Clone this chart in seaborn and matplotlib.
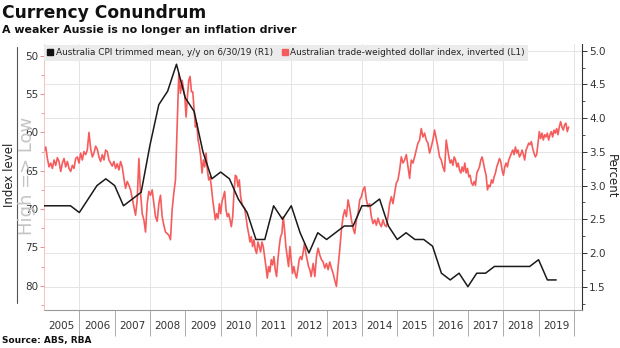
import numpy as np
import pandas as pd
import matplotlib
matplotlib.use("Agg")
import matplotlib.pyplot as plt
import seaborn as sns
from matplotlib.lines import Line2D
from matplotlib.ticker import MultipleLocator, FixedLocator, FuncFormatter, NullFormatter, FormatStrFormatter

# ---------------- data ----------------
# Australia CPI trimmed mean, y/y (quarterly, first value Q4 2004, last Q2 2019)
cpi_first_year = 2005.0
cpi_step = 0.25
cpi_values = [2.7, 2.7, 2.7, 2.7, 2.6, 2.8, 3.0, 3.1, 3.0, 2.7, 2.8, 2.9, 3.6, 4.2, 4.4,
              4.8, 4.3, 4.1, 3.5, 3.1, 3.2, 3.1, 2.8, 2.6, 2.2, 2.2, 2.7, 2.5, 2.7, 2.3,
              2.0, 2.3, 2.2, 2.3, 2.4, 2.4, 2.7, 2.7, 2.8, 2.4, 2.2, 2.3, 2.2, 2.2, 2.1,
              1.7, 1.6, 1.7, 1.5, 1.7, 1.7, 1.8, 1.8, 1.8, 1.8, 1.8, 1.9, 1.6, 1.6]

# Australian trade-weighted dollar index, inverted (in four spans)
twi_span1 = (2005.002, 2008.910)
twi_vals1 = [62.5, 61.9, 63.4, 64.5, 64.0, 64.7, 63.6, 64.3, 63.3, 63.8, 65.1, 64.0, 63.4, 64.5,
             63.8, 64.7, 65.1, 64.3, 64.7, 63.4, 63.2, 64.0, 62.7, 63.6, 62.5, 62.9, 62.3, 60.0,
             62.1, 63.2, 62.7, 61.8, 62.2, 63.2, 63.8, 62.9, 63.6, 62.3, 62.5, 63.6, 64.0, 64.4,
             63.8, 64.7, 64.1, 64.9, 63.8, 64.5, 66.0, 67.3, 66.4, 66.9, 67.5, 68.6, 69.7, 70.8,
             68.8, 63.4, 67.9, 70.6, 71.4, 73.0, 69.3, 67.7, 68.2, 67.5, 69.3, 71.0, 71.6, 69.3,
             68.2, 71.0, 72.1, 73.0, 73.2, 73.4, 74.0, 70.1, 67.9, 66.2, 59.3, 52.3, 54.9, 53.2]
twi_span2 = (2008.985, 2012.563)
twi_vals2 = [55.3, 58.0, 55.3, 53.2, 52.7, 54.7, 54.7, 57.1, 59.3, 58.8, 61.0, 61.9, 63.2, 65.3,
             63.6, 64.5, 62.7, 64.9, 66.2, 65.8, 67.1, 68.8, 70.1, 71.4, 70.6, 71.2, 69.3, 70.6,
             69.0, 68.4, 67.7, 70.1, 71.0, 70.6, 71.4, 72.3, 71.0, 67.9, 65.6, 65.8, 67.1, 66.2,
             68.4, 69.3, 69.7, 69.9, 71.0, 72.3, 73.2, 74.3, 73.6, 74.9, 74.0, 75.3, 75.8, 74.3,
             74.9, 75.6, 74.3, 74.9, 76.2, 77.5, 79.0, 77.5, 78.2, 76.6, 77.3, 76.2, 77.9, 78.8,
             76.6, 74.9, 73.6, 73.2, 71.0, 72.7, 74.9, 76.2, 77.5, 74.9, 76.6, 78.4, 77.5, 78.4,
             79.0, 77.9, 76.6, 76.2, 76.6, 75.6, 74.5, 75.8, 76.6, 77.5, 77.9, 78.8]
twi_span3 = (2012.619, 2016.339)
twi_vals3 = [77.1, 78.8, 76.2, 75.1, 76.0, 76.6, 76.9, 77.7, 77.1, 77.9, 76.9, 77.7, 78.4, 79.3,
             80.1, 77.5, 75.3, 72.7, 71.0, 70.1, 71.0, 68.8, 69.9, 71.4, 72.5, 73.2, 71.4, 70.6,
             68.8, 68.4, 67.5, 67.1, 68.8, 69.7, 69.3, 71.0, 71.9, 71.4, 72.1, 71.2, 71.9, 72.3,
             71.4, 72.1, 72.3, 71.0, 69.3, 68.4, 69.3, 67.9, 66.6, 66.2, 64.9, 63.2, 64.0, 63.6,
             62.9, 64.5, 66.0, 63.6, 64.0, 63.2, 62.3, 61.4, 61.0, 59.5, 60.6, 60.1, 61.0, 61.4,
             62.7, 61.9, 61.0, 59.7, 60.8, 61.9, 63.2, 63.6, 64.5, 65.1]
twi_span4 = (2016.386, 2019.851)
twi_vals4 = [61.0, 62.1, 63.2, 64.0, 63.6, 64.3, 63.2, 63.6, 64.5, 64.0, 64.9, 65.3, 64.5, 65.1,
             64.0, 65.3, 64.7, 65.8, 65.6, 66.6, 66.9, 66.4, 66.9, 65.3, 64.9, 64.5, 63.6, 63.2,
             64.0, 64.9, 65.6, 67.5, 66.9, 67.1, 66.2, 66.6, 65.8, 65.3, 64.5, 64.0, 63.4, 63.8,
             64.9, 65.6, 64.5, 64.0, 64.5, 63.6, 63.2, 62.7, 62.3, 62.9, 61.9, 62.7, 62.3, 63.2,
             62.9, 62.3, 62.9, 63.6, 62.3, 61.9, 61.4, 61.6, 61.2, 62.1, 62.7, 63.2, 62.9, 61.4,
             59.9, 60.8, 60.1, 61.0, 60.3, 60.6, 60.1, 61.0, 60.3, 59.9, 60.6, 59.7, 60.1, 59.5,
             60.3, 59.3, 58.6, 59.3, 59.7, 59.0, 58.8, 59.9, 59.3]

year_labels = [str(y) for y in range(2005, 2020)]
cpi_label = "Australia CPI trimmed mean, y/y on 6/30/19 (R1)"
twi_label = "Australian trade-weighted dollar index, inverted (L1)"

# ---------------- frames ----------------
cpi_df = pd.DataFrame({
    "year": cpi_first_year + cpi_step * np.arange(len(cpi_values)),
    "pct": cpi_values,
})
twi_parts = []
for span, vals in [(twi_span1, twi_vals1), (twi_span2, twi_vals2),
                   (twi_span3, twi_vals3), (twi_span4, twi_vals4)]:
    twi_parts.append(pd.DataFrame({"year": np.linspace(span[0], span[1], len(vals)),
                                   "idx": vals}))
twi_df = pd.concat(twi_parts, ignore_index=True)

# ---------------- style ----------------
sns.set_style("white")
plt.rcParams["font.family"] = ["DejaVu Sans"]

RED = "#f65c5c"
GRID = "#e4e4e4"

W, H = 620, 348
fig = plt.figure(figsize=(6.2, 3.48), dpi=100)
L, R, T, B = 44, 582, 44, 310
ax0 = fig.add_axes([L / W, 1 - B / H, (R - L) / W, (B - T) / H])
ax1 = ax0.twinx()
ax2 = ax0.twinx()

sns.lineplot(data=twi_df, x="year", y="idx", ax=ax1, color=RED, linewidth=1.2,
             estimator=None, sort=False)
sns.lineplot(data=cpi_df, x="year", y="pct", ax=ax2, color="#1a1a1a", linewidth=1.1,
             estimator=None, sort=False)

xmin, xmax = 2005.0, 2020.23
ax0.set_xlim(xmin, xmax)
ax0.set_ylim(1.154, 5.10)
ax2.set_ylim(1.154, 5.10)
ax1.set_ylim(83.17, 48.47)

for a in (ax0, ax1, ax2):
    a.set_xlabel("")
    a.set_ylabel("")
    for s in a.spines.values():
        s.set_visible(False)

# right axis (percent) on ax0
ax0.yaxis.tick_right()
ax0.yaxis.set_major_locator(MultipleLocator(0.5))
ax0.yaxis.set_minor_locator(MultipleLocator(0.25))
ax0.yaxis.set_major_formatter(FormatStrFormatter("%.1f"))
ax0.tick_params(axis="y", which="major", length=3.5, width=0.7, color="#333333",
                labelsize=7.5, labelcolor="#333333", pad=1.5, right=True, left=False,
                labelright=True, labelleft=False)
ax0.tick_params(axis="y", which="minor", length=2, width=0.6, color="#333333",
                right=True, left=False)
ax0.spines["right"].set_visible(True)
ax0.spines["right"].set_color("#333333")
ax0.spines["right"].set_linewidth(0.8)
ax0.spines["bottom"].set_visible(True)
ax0.spines["bottom"].set_color("#999999")
ax0.spines["bottom"].set_linewidth(0.8)

# x axis: gridlines on even years, labels mid-year
ax0.xaxis.set_major_locator(FixedLocator(list(range(2006, 2021, 2))))
ax0.xaxis.set_major_formatter(NullFormatter())
ax0.xaxis.set_minor_locator(FixedLocator([y + 0.5 for y in range(2005, 2020)]))
ax0.xaxis.set_minor_formatter(FuncFormatter(lambda v, p: year_labels[int(v) - 2005]))
ax0.tick_params(axis="x", which="major", length=0, bottom=True)
ax0.tick_params(axis="x", which="minor", length=0, pad=8, labelsize=7.5,
                labelcolor="#333333", bottom=True)
ax0.grid(True, axis="y", which="major", color=GRID, linewidth=0.7)
ax0.grid(True, axis="x", which="major", color=GRID, linewidth=0.7)

sec = ax0.secondary_xaxis("bottom")
sec.xaxis.set_major_locator(FixedLocator(list(range(2006, 2021))))
sec.xaxis.set_major_formatter(NullFormatter())
sec.xaxis.set_minor_locator(FixedLocator([]))
sec.tick_params(axis="x", which="major", length=19, width=0.7, color="#aaaaaa")
for s in sec.spines.values():
    s.set_visible(False)

# left axis (index) on ax1
ax1.yaxis.tick_left()
ax1.yaxis.set_major_locator(MultipleLocator(5))
ax1.yaxis.set_minor_locator(MultipleLocator(2.5))
ax1.tick_params(axis="y", which="major", length=3, width=0.7, color="#f08a8a",
                labelsize=7.5, labelcolor="#333333", pad=1, left=True, right=False,
                labelleft=True, labelright=False)
ax1.tick_params(axis="y", which="minor", length=2, width=0.6, color="#f08a8a",
                left=True, right=False)
ax1.spines["left"].set_visible(True)
ax1.spines["left"].set_color("#f7b5b5")
ax1.spines["left"].set_linewidth(0.6)

ax2.yaxis.set_visible(False)

# legend
handles = [Line2D([], [], marker="s", linestyle="none", color="#111111", markersize=4.5),
           Line2D([], [], marker="s", linestyle="none", color=RED, markersize=4.5)]
leg = ax2.legend(handles, [cpi_label, twi_label], loc="upper left",
                 bbox_to_anchor=(0.0, 0.995), ncol=2, fontsize=6.4, frameon=True,
                 fancybox=False, facecolor="#ebebeb", edgecolor="#ebebeb",
                 framealpha=1.0, borderpad=0.35, handlelength=0.7, handletextpad=0.25,
                 columnspacing=1.0, borderaxespad=0.0)
leg.get_frame().set_linewidth(0)
for t in leg.get_texts():
    t.set_color("#222222")

# texts
fig.text(0.004, 1 - 13 / H, "Currency Conundrum", fontsize=12.3, fontweight="bold",
         va="center", ha="left", color="#111111")
fig.text(0.004, 1 - 30 / H, "A weaker Aussie is no longer an inflation driver", fontsize=7.9,
         fontweight="bold", va="center", ha="left", color="#111111")
fig.text(0.004, 1 - 341 / H, "Source: ABS, RBA", fontsize=6.5, fontweight="bold",
         va="center", ha="left", color="#111111")
fig.text(10 / W, 1 - 175 / H, "Index level", fontsize=8.5, rotation=90,
         va="center", ha="center", color="#222222")
fig.text(611 / W, 1 - 176 / H, "Percent", fontsize=8.5, rotation=270,
         va="center", ha="center", color="#222222")
fig.text(27 / W, 1 - 176 / H, "High => Low", fontsize=13, rotation=90,
         va="center", ha="center", color="#c4c4c4")
fig.add_artist(Line2D([17 / W, 17 / W], [1 - 47 / H, 1 - 303 / H], color="#555555",
                      linewidth=0.8, transform=fig.transFigure))

fig.savefig("out.png", dpi=100)
